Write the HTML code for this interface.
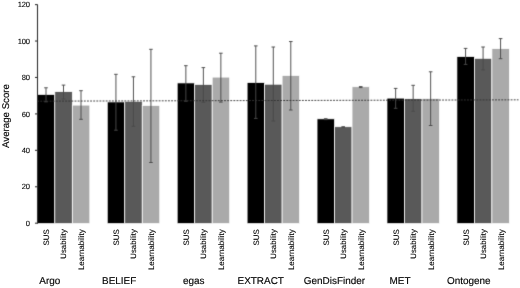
<!DOCTYPE html><html><head><meta charset="utf-8"><style>html,body{margin:0;padding:0;background:#fff;width:520px;height:288px;overflow:hidden}svg{display:block}text{font-family:"Liberation Sans",sans-serif;fill:#000;stroke:#000;stroke-width:0.1px;text-rendering:geometricPrecision}text.g{stroke-width:0.15px}</style></head><body>
<svg width="520" height="288" viewBox="0 0 520 288">
<defs><filter id="b" x="0" y="0" width="100%" height="100%" color-interpolation-filters="sRGB"><feColorMatrix type="saturate" values="0"/><feConvolveMatrix order="3" kernelMatrix="0.0113 0.0838 0.0113 0.0838 0.6196 0.0838 0.0113 0.0838 0.0113" divisor="1" edgeMode="duplicate"/></filter><filter id="gs" color-interpolation-filters="sRGB"><feColorMatrix type="saturate" values="0"/></filter></defs>
<g filter="url(#b)"><rect x="0" y="0" width="520" height="288" fill="#fff"/>
<rect x="37.32" y="94.42" width="17.5" height="129.18" fill="#000000" stroke="#fff" stroke-width="0.75"/>
<rect x="54.82" y="91.62" width="17.5" height="131.98" fill="#595959" stroke="#fff" stroke-width="0.75"/>
<rect x="72.32" y="105.12" width="17.5" height="118.48" fill="#aaaaaa" stroke="#fff" stroke-width="0.75"/>
<rect x="107.25" y="101.92" width="17.5" height="121.68" fill="#000000" stroke="#fff" stroke-width="0.75"/>
<rect x="124.75" y="101.32" width="17.5" height="122.28" fill="#595959" stroke="#fff" stroke-width="0.75"/>
<rect x="142.25" y="105.42" width="17.5" height="118.18" fill="#aaaaaa" stroke="#fff" stroke-width="0.75"/>
<rect x="177.18" y="82.92" width="17.5" height="140.68" fill="#000000" stroke="#fff" stroke-width="0.75"/>
<rect x="194.68" y="84.42" width="17.5" height="139.18" fill="#595959" stroke="#fff" stroke-width="0.75"/>
<rect x="212.18" y="77.12" width="17.5" height="146.48" fill="#aaaaaa" stroke="#fff" stroke-width="0.75"/>
<rect x="247.11" y="82.52" width="17.5" height="141.08" fill="#000000" stroke="#fff" stroke-width="0.75"/>
<rect x="264.61" y="84.22" width="17.5" height="139.38" fill="#595959" stroke="#fff" stroke-width="0.75"/>
<rect x="282.11" y="75.42" width="17.5" height="148.18" fill="#aaaaaa" stroke="#fff" stroke-width="0.75"/>
<rect x="317.04" y="118.82" width="17.5" height="104.78" fill="#000000" stroke="#fff" stroke-width="0.75"/>
<rect x="334.54" y="126.72" width="17.5" height="96.88" fill="#595959" stroke="#fff" stroke-width="0.75"/>
<rect x="352.04" y="86.72" width="17.5" height="136.88" fill="#aaaaaa" stroke="#fff" stroke-width="0.75"/>
<rect x="386.97" y="98.12" width="17.5" height="125.48" fill="#000000" stroke="#fff" stroke-width="0.75"/>
<rect x="404.47" y="98.62" width="17.5" height="124.98" fill="#595959" stroke="#fff" stroke-width="0.75"/>
<rect x="421.97" y="98.37" width="17.5" height="125.23" fill="#aaaaaa" stroke="#fff" stroke-width="0.75"/>
<rect x="456.90" y="56.52" width="17.5" height="167.08" fill="#000000" stroke="#fff" stroke-width="0.75"/>
<rect x="474.40" y="58.32" width="17.5" height="165.28" fill="#595959" stroke="#fff" stroke-width="0.75"/>
<rect x="491.90" y="48.62" width="17.5" height="174.98" fill="#aaaaaa" stroke="#fff" stroke-width="0.75"/>
<line x1="37.5" y1="4.5" x2="37.5" y2="223.7" stroke="#333" stroke-width="1.1"/>
<line x1="35" y1="223.20" x2="37.5" y2="223.20" stroke="#333" stroke-width="1.1"/>
<line x1="35" y1="186.77" x2="37.5" y2="186.77" stroke="#333" stroke-width="1.1"/>
<line x1="35" y1="150.33" x2="37.5" y2="150.33" stroke="#333" stroke-width="1.1"/>
<line x1="35" y1="113.90" x2="37.5" y2="113.90" stroke="#333" stroke-width="1.1"/>
<line x1="35" y1="77.47" x2="37.5" y2="77.47" stroke="#333" stroke-width="1.1"/>
<line x1="35" y1="41.03" x2="37.5" y2="41.03" stroke="#333" stroke-width="1.1"/>
<line x1="35" y1="4.60" x2="37.5" y2="4.60" stroke="#333" stroke-width="1.1"/>
<path d="M46.00 87.80V101.80M44.20 87.80H47.80M44.20 101.80H47.80" stroke="#4a4a4a" stroke-width="0.95" fill="none"/>
<path d="M63.50 85.10V99.00M61.70 85.10H65.30M61.70 99.00H65.30" stroke="#4a4a4a" stroke-width="0.95" fill="none"/>
<path d="M81.00 90.70V119.30M79.20 90.70H82.80M79.20 119.30H82.80" stroke="#4a4a4a" stroke-width="0.95" fill="none"/>
<path d="M115.93 74.30V130.20M114.13 74.30H117.73M114.13 130.20H117.73" stroke="#4a4a4a" stroke-width="0.95" fill="none"/>
<path d="M133.43 76.80V126.30M131.63 76.80H135.23M131.63 126.30H135.23" stroke="#4a4a4a" stroke-width="0.95" fill="none"/>
<path d="M150.93 49.30V162.50M149.13 49.30H152.73M149.13 162.50H152.73" stroke="#4a4a4a" stroke-width="0.95" fill="none"/>
<path d="M185.86 65.70V101.20M184.06 65.70H187.66M184.06 101.20H187.66" stroke="#4a4a4a" stroke-width="0.95" fill="none"/>
<path d="M203.36 67.60V102.30M201.56 67.60H205.16M201.56 102.30H205.16" stroke="#4a4a4a" stroke-width="0.95" fill="none"/>
<path d="M220.86 53.20V102.10M219.06 53.20H222.66M219.06 102.10H222.66" stroke="#4a4a4a" stroke-width="0.95" fill="none"/>
<path d="M255.79 45.90V118.40M253.99 45.90H257.59M253.99 118.40H257.59" stroke="#4a4a4a" stroke-width="0.95" fill="none"/>
<path d="M273.29 47.00V121.00M271.49 47.00H275.09M271.49 121.00H275.09" stroke="#4a4a4a" stroke-width="0.95" fill="none"/>
<path d="M290.79 41.55V110.00M288.99 41.55H292.59M288.99 110.00H292.59" stroke="#4a4a4a" stroke-width="0.95" fill="none"/>
<path d="M325.72 118.70V119.60M323.92 118.70H327.52M323.92 119.60H327.52" stroke="#4a4a4a" stroke-width="0.95" fill="none"/>
<path d="M343.22 126.70V127.60M341.42 126.70H345.02M341.42 127.60H345.02" stroke="#4a4a4a" stroke-width="0.95" fill="none"/>
<path d="M360.72 86.60V87.60M358.92 86.60H362.52M358.92 87.60H362.52" stroke="#4a4a4a" stroke-width="0.95" fill="none"/>
<path d="M395.65 88.40V108.30M393.85 88.40H397.45M393.85 108.30H397.45" stroke="#4a4a4a" stroke-width="0.95" fill="none"/>
<path d="M413.15 85.30V111.30M411.35 85.30H414.95M411.35 111.30H414.95" stroke="#4a4a4a" stroke-width="0.95" fill="none"/>
<path d="M430.65 71.80V125.50M428.85 71.80H432.45M428.85 125.50H432.45" stroke="#4a4a4a" stroke-width="0.95" fill="none"/>
<path d="M465.58 48.40V64.40M463.78 48.40H467.38M463.78 64.40H467.38" stroke="#4a4a4a" stroke-width="0.95" fill="none"/>
<path d="M483.08 47.00V69.90M481.28 47.00H484.88M481.28 69.90H484.88" stroke="#4a4a4a" stroke-width="0.95" fill="none"/>
<path d="M500.58 38.60V58.70M498.78 38.60H502.38M498.78 58.70H502.38" stroke="#4a4a4a" stroke-width="0.95" fill="none"/>
<line x1="38" y1="101.17" x2="518.5" y2="99.83" stroke="#333" stroke-width="0.9" stroke-dasharray="1.9 1.215" stroke-dashoffset="0.85"/>
</g><g filter="url(#gs)">
<text x="29.85" y="225.85" font-size="7.6" letter-spacing="-0.2" text-anchor="end">0</text>
<text x="29.85" y="189.42" font-size="7.6" letter-spacing="-0.2" text-anchor="end">20</text>
<text x="29.85" y="152.98" font-size="7.6" letter-spacing="-0.2" text-anchor="end">40</text>
<text x="29.85" y="116.55" font-size="7.6" letter-spacing="-0.2" text-anchor="end">60</text>
<text x="29.85" y="80.12" font-size="7.6" letter-spacing="-0.2" text-anchor="end">80</text>
<text x="29.85" y="43.68" font-size="7.6" letter-spacing="-0.2" text-anchor="end">100</text>
<text x="29.85" y="7.25" font-size="7.6" letter-spacing="-0.2" text-anchor="end">120</text>
<text transform="translate(49.35,229.2) rotate(-90)" font-size="7.9" letter-spacing="0.05" text-anchor="end">SUS</text>
<text transform="translate(66.25,229.2) rotate(-90)" font-size="7.8" letter-spacing="0" text-anchor="end">Usability</text>
<text transform="translate(83.95,229.2) rotate(-90)" font-size="8.0" letter-spacing="0" text-anchor="end">Learnability</text>
<text transform="translate(119.28,229.2) rotate(-90)" font-size="7.9" letter-spacing="0.05" text-anchor="end">SUS</text>
<text transform="translate(136.18,229.2) rotate(-90)" font-size="7.8" letter-spacing="0" text-anchor="end">Usability</text>
<text transform="translate(153.88,229.2) rotate(-90)" font-size="8.0" letter-spacing="0" text-anchor="end">Learnability</text>
<text transform="translate(189.21,229.2) rotate(-90)" font-size="7.9" letter-spacing="0.05" text-anchor="end">SUS</text>
<text transform="translate(206.11,229.2) rotate(-90)" font-size="7.8" letter-spacing="0" text-anchor="end">Usability</text>
<text transform="translate(223.81,229.2) rotate(-90)" font-size="8.0" letter-spacing="0" text-anchor="end">Learnability</text>
<text transform="translate(259.14,229.2) rotate(-90)" font-size="7.9" letter-spacing="0.05" text-anchor="end">SUS</text>
<text transform="translate(276.04,229.2) rotate(-90)" font-size="7.8" letter-spacing="0" text-anchor="end">Usability</text>
<text transform="translate(293.74,229.2) rotate(-90)" font-size="8.0" letter-spacing="0" text-anchor="end">Learnability</text>
<text transform="translate(329.07,229.2) rotate(-90)" font-size="7.9" letter-spacing="0.05" text-anchor="end">SUS</text>
<text transform="translate(345.97,229.2) rotate(-90)" font-size="7.8" letter-spacing="0" text-anchor="end">Usability</text>
<text transform="translate(363.67,229.2) rotate(-90)" font-size="8.0" letter-spacing="0" text-anchor="end">Learnability</text>
<text transform="translate(399.00,229.2) rotate(-90)" font-size="7.9" letter-spacing="0.05" text-anchor="end">SUS</text>
<text transform="translate(415.90,229.2) rotate(-90)" font-size="7.8" letter-spacing="0" text-anchor="end">Usability</text>
<text transform="translate(433.60,229.2) rotate(-90)" font-size="8.0" letter-spacing="0" text-anchor="end">Learnability</text>
<text transform="translate(468.93,229.2) rotate(-90)" font-size="7.9" letter-spacing="0.05" text-anchor="end">SUS</text>
<text transform="translate(485.83,229.2) rotate(-90)" font-size="7.8" letter-spacing="0" text-anchor="end">Usability</text>
<text transform="translate(503.53,229.2) rotate(-90)" font-size="8.0" letter-spacing="0" text-anchor="end">Learnability</text>
<text class="g" x="39.25" y="283.8" font-size="9.95">Argo</text>
<text class="g" x="102.0" y="283.8" font-size="9.95">BELIEF</text>
<text class="g" x="183.0" y="283.8" font-size="9.95">egas</text>
<text class="g" x="237.5" y="283.8" font-size="9.95">EXTRACT</text>
<text class="g" x="303.75" y="283.8" font-size="9.95">GenDisFinder</text>
<text class="g" x="389.5" y="283.8" font-size="9.95">MET</text>
<text class="g" x="447.0" y="283.8" font-size="9.95">Ontogene</text>
<text class="g" transform="translate(8.6,116.0) rotate(-90)" font-size="9.7" text-anchor="middle">Average Score</text>
</g></svg></body></html>
